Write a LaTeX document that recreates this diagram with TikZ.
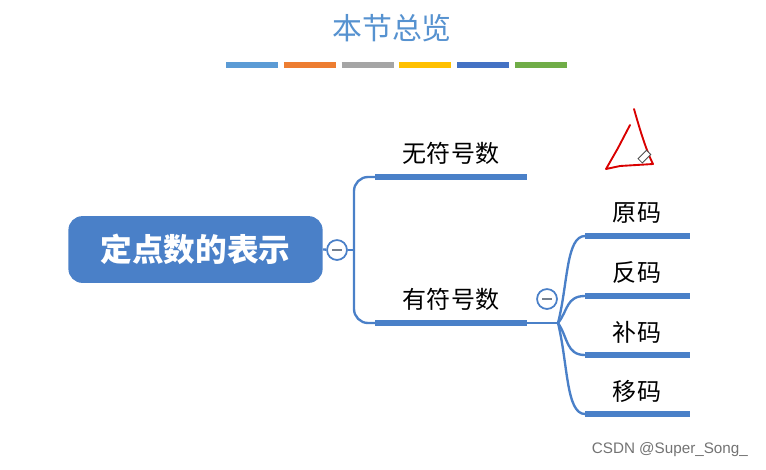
\documentclass[tikz,border=0pt]{standalone}
\usepackage{fontspec}
\newfontfamily\cjk{Noto Sans CJK SC}
\setsansfont{Liberation Sans}
\usetikzlibrary{positioning, calc}
\definecolor{mapblue}{RGB}{74,128,200}
\definecolor{titleblue}{RGB}{86,146,208}
\definecolor{barA}{RGB}{91,155,213}
\definecolor{barB}{RGB}{237,125,49}
\definecolor{barC}{RGB}{165,165,165}
\definecolor{barD}{RGB}{255,192,0}
\definecolor{barE}{RGB}{68,114,196}
\definecolor{barF}{RGB}{112,173,71}

\begin{document}
\begin{tikzpicture}[x=0.03cm, y=-0.03cm,
   root/.style={rectangle, rounded corners=12pt, fill=mapblue, text=white, minimum width=217pt, minimum height=57pt, font=\cjk\fontsize{27}{30}\selectfont\bfseries},
   fold/.style={circle, draw=mapblue, line width=1.5pt, fill=white, minimum size=17pt, inner sep=0pt},
   lbl/.style={font=\cjk\fontsize{20.5}{24}\selectfont, text=black},
   bar/.style={mapblue, line width=5pt},
   link/.style={mapblue, line width=2pt},
   strip/.style={line width=4.5pt}]
\useasboundingbox[fill=white] (0,0) rectangle (766,469);

% title and colour strip
\node[font=\cjk\fontsize{25.5}{28}\selectfont, text=titleblue] (title) at (392,28) {本节总览};
\foreach \c [count=\i from 0] in {barA,barB,barC,barD,barE,barF}
  \draw[strip, \c] ({226+57.8*\i},65) -- ++(52,0);

% root and first fold
\node[root] (root) at (195.5,249.5) {定点数的表示};
\node[fold] (f1) at (337,250) {};
\coordinate (hub1) at (354,250);
\draw[link] (root.east) -- (f1);
\draw[link] (f1) -- (hub1);

% level one
\coordinate (u1) at (375,177); \coordinate (u2) at (527,177);
\coordinate (s1) at (375,323); \coordinate (s2) at (527,323);
\draw[link, rounded corners=12pt] (hub1) |- (u1);
\draw[link, rounded corners=12pt] (hub1) |- (s1);
\draw[bar] (u1) -- (u2);
\draw[bar] (s1) -- (s2);
\node[lbl] (unsigned) at (451,153) {无符号数};
\node[lbl] (signed) at (451,299) {有符号数};

% level two
\node[fold] (f2) at (547,299) {};
\coordinate (hub2) at (558,323);
\draw[link] (s2) -- (hub2);
\foreach \n/\y/\t in {a/236/原码, b/296/反码, c/355/补码, d/414/移码} {
  \coordinate (\n1) at (585,\y); \coordinate (\n2) at (690,\y);
  \draw[link] (hub2) .. controls (568,{323+(\y-323)*0.45}) and (566,\y) .. (\n1);
  \draw[bar] (\n1) -- (\n2);
  \node[lbl] (code\n) at (637,{\y-23}) {\t};
}
\foreach \f in {f1,f2}
  \draw[gray!80!mapblue, line width=1.6pt] ($(\f)+(-5,0)$) -- ($(\f)+(5,0)$);

% red pen mark
\draw[red!85!black, line width=1.6pt, line cap=round, line join=round]
  (634,109) .. controls (640,130) and (646,150) .. (653,164) -- (620,166) -- (606,169) -- (618,148) -- (630,125);
\draw[black!70, fill=white, line width=0.7pt, rotate around={45:(643,158)}] (639,155) rectangle (651,161);

% watermark
\node[font=\sffamily\fontsize{13}{15}\selectfont, text=black!55, anchor=east] (mark) at (752,450) {CSDN @Super\_Song\_};
\end{tikzpicture}
\end{document}
